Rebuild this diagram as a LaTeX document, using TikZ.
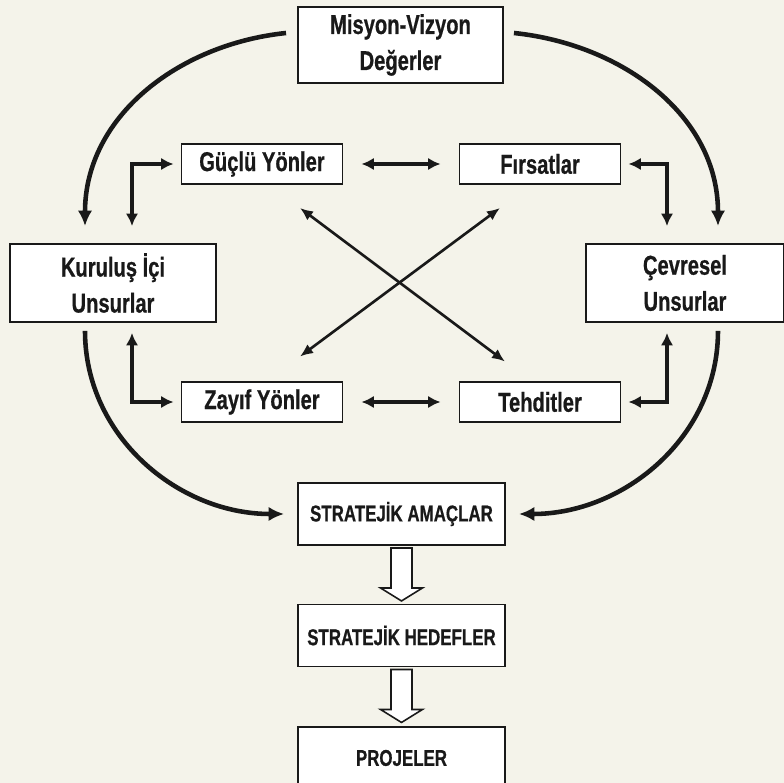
\documentclass[tikz,border=0pt]{standalone}
\usepackage{fontspec}
\newfontfamily\narrowfont{Liberation Sans}[FakeStretch=0.74, FakeBold=0.6]
\usetikzlibrary{arrows.meta}
\definecolor{paper}{RGB}{244,243,234}
\definecolor{ink}{RGB}{25,25,25}
\begin{document}
\begin{tikzpicture}[x=0.2mm, y=0.2mm, line join=miter, >={Latex[length=2.2mm,width=2.2mm]}]
	\tikzset{
		box/.style={draw=ink, fill=white, line width=1.1pt, text=ink, inner sep=0pt, align=center,
			font=\narrowfont\bfseries\fontsize{15.5}{20.5}\selectfont},
		smallbox/.style={box, minimum width=32.2mm, minimum height=8mm},
		lowbox/.style={box, minimum width=41.4mm, minimum height=12.4mm,
			font=\narrowfont\bfseries\fontsize{13}{15}\selectfont},
		bigarrow/.style={draw=ink, line width=2.6pt, -{Latex[length=3.1mm,width=2.9mm]}},
		link/.style={draw=ink, line width=2pt, {Latex[length=2.5mm,width=2.5mm]}-{Latex[length=2.5mm,width=2.5mm]}},
		cross/.style={draw=ink, line width=1.5pt, {Latex[length=2.6mm,width=2.2mm]}-{Latex[length=2.6mm,width=2.2mm]}},
		hollow/.style={draw=ink, fill=white, line width=0.9pt}
	}
	\fill[paper] (0,0) rectangle (784,783);
	\useasboundingbox (0,0) rectangle (784,783);
	\clip (0,0) rectangle (784,783);
	% boxes
	\node[box, minimum width=41mm, minimum height=15.2mm] (misyon) at (400.5,738) {Misyon-Vizyon\\Değerler};
	\node[box, minimum width=41.2mm, minimum height=15.6mm] (kurulus) at (113,500) {Kuruluş İçi\\Unsurlar};
	\node[box, minimum width=39.6mm, minimum height=15.6mm] (cevre) at (685,500) {Çevresel\\Unsurlar};
	\node[smallbox] (guclu) at (262,619) {Güçlü Yönler};
	\node[smallbox] (firsat) at (540,619) {Fırsatlar};
	\node[smallbox] (zayif) at (262,381) {Zayıf Yönler};
	\node[smallbox] (tehdit) at (540,381) {Tehditler};
	\node[lowbox] (amac) at (401.5,269) {STRATEJİK AMAÇLAR};
	\node[lowbox] (hedef) at (401.5,147.5) {STRATEJİK HEDEFLER};
	\node[lowbox] (proje) at (401.5,25) {PROJELER};
	% outer cycle
	\draw[bigarrow] ([shift={(-11,12)}]misyon.west) to[out=186,in=90] ([shift={(-28,17)}]kurulus.north);
	\draw[bigarrow] ([shift={(10,12)}]misyon.east) to[out=-6,in=90] ([shift={(33,17)}]cevre.north);
	\draw[bigarrow] ([shift={(-28,-8)}]kurulus.south) to[out=-90,in=180] ([shift={(-13,0)}]amac.west);
	\draw[bigarrow] ([shift={(33,-8)}]cevre.south) to[out=-90,in=0] ([shift={(13,0)}]amac.east);
	% elbows
	\draw[link] ([shift={(19,17)}]kurulus.north) |- ([shift={(-7,0)}]guclu.west);
	\draw[link] ([shift={(7,0)}]firsat.east) -| ([shift={(-18,17)}]cevre.north);
	\draw[link] ([shift={(19,-10)}]kurulus.south) |- ([shift={(-7,0)}]zayif.west);
	\draw[link] ([shift={(7,0)}]tehdit.east) -| ([shift={(-18,-10)}]cevre.south);
	\draw[link] ([shift={(18,0)}]guclu.east) -- ([shift={(-18,0)}]firsat.west);
	\draw[link] ([shift={(18,0)}]zayif.east) -- ([shift={(-18,0)}]tehdit.west);
	% diagonals
	\draw[cross] ([shift={(38,-23)}]guclu.south) -- ([shift={(-35,19.5)}]tehdit.north);
	\draw[cross] ([shift={(-40,-23)}]firsat.south) -- ([shift={(38,24.5)}]zayif.north);
	% hollow arrows
	\draw[hollow] ([shift={(-10.5,-2)}]amac.south) -- ++(0,-40) -- ++(-10.5,0) -- ++(21,-13) -- ++(21,13) -- ++(-10.5,0) -- ++(0,40) -- cycle;
	\draw[hollow] ([shift={(-10.5,-2)}]hedef.south) -- ++(0,-40) -- ++(-10.5,0) -- ++(21,-13) -- ++(21,13) -- ++(-10.5,0) -- ++(0,40) -- cycle;
\end{tikzpicture}
\end{document}
